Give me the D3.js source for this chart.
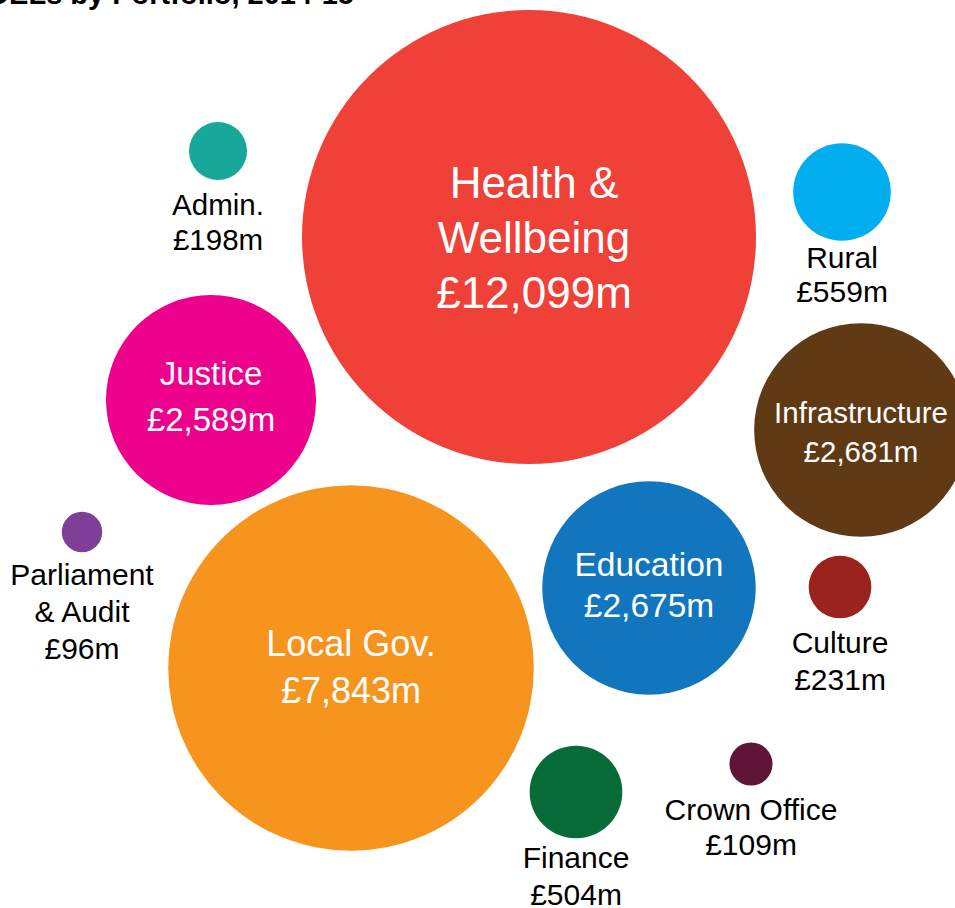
<!DOCTYPE html>
<html>
  <head>
    <title>DELs by Portfolio</title>
    <script src="https://d3js.org/d3.v7.min.js"></script>
    <style>
      body { margin: 0; background: #fff; }
      svg { display: block; }
      text { font-family: "Liberation Sans", Arial, sans-serif; }
      .title { font-weight: bold; font-size: 29px; fill: #000; }
    </style>
  </head>
  <body>
    <svg width="955" height="908"></svg>

    <script>
      // data
      const portfolios = ["Health & Wellbeing", "Justice", "Local Gov.", "Education",
        "Infrastructure", "Rural", "Finance", "Culture", "Admin.", "Crown Office",
        "Parliament & Audit"];
      const labelLines = [["Health &", "Wellbeing"], ["Justice"], ["Local Gov."], ["Education"],
        ["Infrastructure"], ["Rural"], ["Finance"], ["Culture"], ["Admin."], ["Crown Office"],
        ["Parliament", "& Audit"]];
      const spend = [12099, 2589, 7843, 2675, 2681, 559, 504, 231, 198, 109, 96];
      const colours = ["#ef4138", "#ec008c", "#f7941e", "#1176bd", "#603915", "#00aeef",
        "#066b38", "#9a241d", "#17a89a", "#5f1636", "#7f3f98"];

      // layout: bubble centres and label placement
      const layout = [
        {cx: 529, cy: 237, inside: true, fs: 44, lh: 55, dx: 5, dy: -39},
        {cx: 211, cy: 400, inside: true, fs: 33, lh: 46, dx: 0, dy: -15},
        {cx: 351, cy: 668, inside: true, fs: 36, lh: 47, dx: 0, dy: -12},
        {cx: 649, cy: 588, inside: true, fs: 33.5, lh: 41, dx: 0, dy: -12},
        {cx: 861, cy: 430, inside: true, fs: 29.5, lh: 39, dx: 0, dy: -7},
        {cx: 842, cy: 192, inside: false, fs: 30, lh: 34, dx: 0, dy: 76},
        {cx: 576, cy: 792, inside: false, fs: 30, lh: 37, dx: 0, dy: 76},
        {cx: 840, cy: 587, inside: false, fs: 30, lh: 37, dx: 0, dy: 66},
        {cx: 218, cy: 151, inside: false, fs: 29.5, lh: 35, dx: 0, dy: 64},
        {cx: 751, cy: 764, inside: false, fs: 30, lh: 35, dx: 0, dy: 56},
        {cx: 82, cy: 532, inside: false, fs: 30, lh: 37, dx: 0, dy: 53}
      ];

      const svg = d3.select("svg");
      const fmt = d3.format(",");

      const r = d3.scaleSqrt()
        .domain([0, d3.max(spend)])
        .range([0, 227]);

      const nodes = portfolios.map((name, i) => ({
        name,
        value: spend[i],
        colour: colours[i],
        lines: labelLines[i].concat(["£" + fmt(spend[i]) + "m"]),
        ...layout[i]
      }));

      svg.append("text")
        .attr("class", "title")
        .attr("x", 354)
        .attr("y", 4)
        .attr("text-anchor", "end")
        .text("Scottish Government DELs by Portfolio, 2014-15");

      const bubble = svg.selectAll(".bubble")
        .data(nodes)
        .enter().append("g")
          .attr("class", "bubble")
          .attr("transform", d => `translate(${d.cx}, ${d.cy})`);

      bubble.append("circle")
        .attr("r", d => r(d.value))
        .attr("fill", d => d.colour);

      bubble.append("text")
        .attr("text-anchor", "middle")
        .attr("fill", d => d.inside ? "#fff" : "#000")
        .style("font-size", d => d.fs + "px")
        .selectAll("tspan")
        .data(d => d.lines.map((t, j) => ({t, x: d.dx, y: d.dy + j * d.lh})))
        .enter().append("tspan")
          .attr("x", d => d.x)
          .attr("y", d => d.y)
          .text(d => d.t);
    </script>
  </body>
</html>
